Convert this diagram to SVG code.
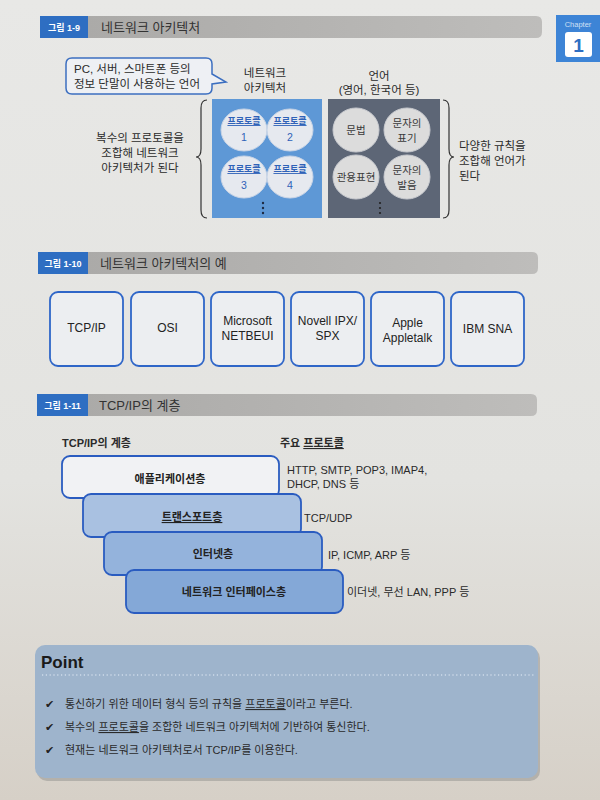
<svg xmlns="http://www.w3.org/2000/svg" width="600" height="800" viewBox="0 0 600 800">
<defs>
<linearGradient id="bg" x1="0" y1="0" x2="0" y2="1">
<stop offset="0" stop-color="#e8e8e6"/>
<stop offset="0.6" stop-color="#e3e3e0"/>
<stop offset="1" stop-color="#d6d0c7"/>
</linearGradient>
<linearGradient id="bar" x1="0" y1="0" x2="1" y2="0">
<stop offset="0" stop-color="#a9a8a6"/>
<stop offset="1" stop-color="#bebdbb"/>
</linearGradient>
<style>
text{font-family:"Liberation Sans","Noto Sans CJK KR",sans-serif;fill:#2a2a2a}
.lbl{fill:#fff;font-size:9px;font-weight:bold}
.ttl{font-size:13px;fill:#333}
.t11{font-size:11.5px}
.c{text-anchor:middle}
.blueTag{fill:#2e6ec2}
.proto{fill:#e6e9ef;stroke:#c8d4e6;stroke-width:1}
.ptxt{fill:#2f62b8;font-size:10.5px}
.pw{fill:#2f62b8;font-size:9px;font-weight:bold}
.lang{fill:#dcdcdc;stroke:#c9cbd0;stroke-width:1}
.ltxt{fill:#3a3a3a;font-size:10.5px}
.brace{fill:none;stroke:#333;stroke-width:1.2}
.arch{fill:#eceef1;stroke:#2f66c8;stroke-width:1.8}
.atxt{font-size:12px;fill:#222}
.layer{stroke:#2a5cc0;stroke-width:1.8}
.ltx{font-size:11px;font-weight:bold;fill:#222}
.rt{font-size:11px;fill:#2a2a2a}
.pt{font-size:11px;fill:#2a2a2a}
.u{text-decoration:underline}
</style>
</defs>
<rect width="600" height="800" fill="url(#bg)"/>

<!-- Chapter tab -->
<g id="chapter">
<rect x="556" y="15" width="44" height="47" fill="#3d84d6"/>
<text x="578" y="27" class="c" style="font-size:7.5px;fill:#cfe0f5">Chapter</text>
<rect x="565" y="32" width="27" height="25" rx="3" fill="#fff"/>
<text x="578.5" y="52" class="c" style="font-size:19px;font-weight:bold;fill:#2e6ec2">1</text>
</g>

<!-- Section 1 header -->
<g id="header1">
<path d="M40,16 H536 Q542,16 542,22 V32 Q542,38 536,38 H40 Z" fill="url(#bar)"/>
<rect x="40" y="16" width="48" height="22" class="blueTag"/>
<text x="64" y="31" class="lbl c">그림 1-9</text>
<text x="101" y="32" class="ttl">네트워크 아키텍처</text>
</g>

<!-- Speech bubble -->
<g id="bubble">
<path d="M72,58 H206 Q212,58 212,64 V74 L226,82 L212,84 V88 Q212,94 206,94 H72 Q66,94 66,88 V64 Q66,58 72,58 Z" fill="#eef0f4" stroke="#3c6fc0" stroke-width="1.5"/>
<text x="74" y="73" class="t11">PC, 서버, 스마트폰 등의</text>
<text x="74" y="88" class="t11">정보 단말이 사용하는 언어</text>
</g>

<g id="arch-label">
<text x="265" y="77" class="t11 c">네트워크</text>
<text x="265" y="92" class="t11 c">아키텍처</text>
</g>
<g id="lang-label">
<text x="379" y="80" class="t11 c">언어</text>
<text x="379" y="94" class="t11 c">(영어, 한국어 등)</text>
</g>

<!-- Network architecture box -->
<g id="arch-box">
<rect x="212" y="99" width="110" height="119" fill="#5e98d6"/>
<ellipse cx="244" cy="130" rx="23" ry="21" class="proto"/>
<text x="244" y="124" class="pw c u">프로토콜</text>
<text x="244" y="141" class="ptxt c">1</text>
<ellipse cx="290" cy="130" rx="23" ry="21" class="proto"/>
<text x="290" y="124" class="pw c u">프로토콜</text>
<text x="290" y="141" class="ptxt c">2</text>
<ellipse cx="244" cy="177" rx="23" ry="21" class="proto"/>
<text x="244" y="172" class="pw c u">프로토콜</text>
<text x="244" y="189" class="ptxt c">3</text>
<ellipse cx="290" cy="177" rx="23" ry="21" class="proto"/>
<text x="290" y="172" class="pw c u">프로토콜</text>
<text x="290" y="189" class="ptxt c">4</text>
<circle cx="263" cy="203" r="1.2" fill="#1e2a44"/>
<circle cx="263" cy="208" r="1.2" fill="#1e2a44"/>
<circle cx="263" cy="213" r="1.2" fill="#1e2a44"/>
</g>

<!-- Language box -->
<g id="lang-box">
<rect x="328" y="99" width="112" height="119" fill="#5d6676"/>
<ellipse cx="356" cy="130" rx="23" ry="22" class="lang"/>
<text x="356" y="134" class="ltxt c">문법</text>
<ellipse cx="407" cy="130" rx="23" ry="22" class="lang"/>
<text x="407" y="127" class="ltxt c">문자의</text>
<text x="407" y="142" class="ltxt c">표기</text>
<ellipse cx="356" cy="177" rx="23" ry="22" class="lang"/>
<text x="356" y="181" class="ltxt c">관용표현</text>
<ellipse cx="407" cy="177" rx="23" ry="22" class="lang"/>
<text x="407" y="174" class="ltxt c">문자의</text>
<text x="407" y="189" class="ltxt c">발음</text>
<circle cx="380" cy="203" r="1.1" fill="#222"/>
<circle cx="380" cy="208" r="1.1" fill="#222"/>
<circle cx="380" cy="213" r="1.1" fill="#222"/>
</g>

<g id="connectors">
<path class="brace" d="M207,100 Q201,100 201,108 L201,149 Q201,157 196,157 Q201,157 201,165 L201,210 Q201,218 207,218"/>
<path class="brace" d="M443,100 Q449,100 449,108 L449,149 Q449,157 454,157 Q449,157 449,165 L449,210 Q449,218 443,218"/>
</g>

<g id="left-note">
<text x="140" y="142" class="t11 c">복수의 프로토콜을</text>
<text x="140" y="157" class="t11 c">조합해 네트워크</text>
<text x="140" y="172" class="t11 c">아키텍처가 된다</text>
</g>
<g id="right-note">
<text x="459" y="150" class="t11">다양한 규칙을</text>
<text x="459" y="165" class="t11">조합해 언어가</text>
<text x="459" y="180" class="t11">된다</text>
</g>

<!-- Section 2 header -->
<g id="header2">
<path d="M38,252 H532 Q538,252 538,258 V268 Q538,274 532,274 H38 Z" fill="url(#bar)"/>
<rect x="38" y="252" width="50" height="22" class="blueTag"/>
<text x="63" y="267" class="lbl c">그림 1-10</text>
<text x="100" y="268" class="ttl">네트워크 아키텍처의 예</text>
</g>

<g id="tcpip">
<rect x="50" y="292" width="73" height="74" rx="8" class="arch"/>
<text x="86.5" y="332" class="atxt c">TCP/IP</text>
</g>
<g id="osi">
<rect x="131" y="292" width="73" height="74" rx="8" class="arch"/>
<text x="167.5" y="332" class="atxt c">OSI</text>
</g>
<g id="netbeui">
<rect x="211" y="292" width="73" height="74" rx="8" class="arch"/>
<text x="247.5" y="325" class="atxt c">Microsoft</text>
<text x="247.5" y="340" class="atxt c">NETBEUI</text>
</g>
<g id="ipx">
<rect x="291" y="292" width="73" height="74" rx="8" class="arch"/>
<text x="327.5" y="325" class="atxt c">Novell IPX/</text>
<text x="327.5" y="340" class="atxt c">SPX</text>
</g>
<g id="appletalk">
<rect x="371" y="292" width="73" height="74" rx="8" class="arch"/>
<text x="407.5" y="327" class="atxt c">Apple</text>
<text x="407.5" y="342" class="atxt c">Appletalk</text>
</g>
<g id="sna">
<rect x="451" y="292" width="73" height="74" rx="8" class="arch"/>
<text x="487.5" y="333" class="atxt c">IBM SNA</text>
</g>

<!-- Section 3 header -->
<g id="header3">
<path d="M37,394 H531 Q537,394 537,400 V410 Q537,416 531,416 H37 Z" fill="url(#bar)"/>
<rect x="37" y="394" width="51" height="22" class="blueTag"/>
<text x="62.5" y="409" class="lbl c">그림 1-11</text>
<text x="99" y="410" class="ttl">TCP/IP의 계층</text>
</g>

<text x="62" y="447" style="font-size:11px;font-weight:bold">TCP/IP의 계층</text>
<text x="280" y="447" style="font-size:11px;font-weight:bold">주요 <tspan class="u">프로토콜</tspan></text>

<g id="layer-app">
<rect x="62" y="456" width="217" height="42" rx="8" class="layer" fill="#f1f2f4"/>
<text x="170" y="483" class="ltx c">애플리케이션층</text>
</g>
<g id="layer-transport">
<rect x="83" y="494" width="218" height="43" rx="8" class="layer" fill="#a9c1e1"/>
<text x="192" y="521" class="ltx c u">트랜스포트층</text>
</g>
<g id="layer-internet">
<rect x="104" y="532" width="218" height="43" rx="8" class="layer" fill="#94b3dc"/>
<text x="213" y="558" class="ltx c">인터넷층</text>
</g>
<g id="layer-netif">
<rect x="126" y="570" width="217" height="43" rx="8" class="layer" fill="#84a8d7"/>
<text x="234" y="596" class="ltx c">네트워크 인터페이스층</text>
</g>

<g id="protocols">
<text x="287" y="474" class="rt">HTTP, SMTP, POP3, IMAP4,</text>
<text x="287" y="488" class="rt">DHCP, DNS 등</text>
<text x="304" y="522" class="rt">TCP/UDP</text>
<text x="328" y="559" class="rt">IP, ICMP, ARP 등</text>
<text x="347" y="596" class="rt">이더넷, 무선 LAN, PPP 등</text>
</g>

<!-- Point box -->
<g id="point">
<rect x="37" y="648" width="503" height="133" rx="10" fill="#8a8a88" opacity="0.45"/>
<rect x="35" y="645" width="503" height="133" rx="10" fill="#9eb4cc"/>
<text x="41" y="668" style="font-size:17px;font-weight:bold;fill:#1a1a1a">Point</text>
<line x1="42" y1="675" x2="534" y2="675" stroke="#e6eef7" stroke-width="1.2" stroke-dasharray="1.2 2.6"/>
<text x="45" y="708" style="font-size:11px;fill:#222">✔</text>
<text x="65" y="708" class="pt">통신하기 위한 데이터 형식 등의 규칙을 <tspan class="u">프로토콜</tspan>이라고 부른다.</text>
<text x="45" y="731" style="font-size:11px;fill:#222">✔</text>
<text x="65" y="731" class="pt">복수의 <tspan class="u">프로토콜</tspan>을 조합한 네트워크 아키텍처에 기반하여 통신한다.</text>
<text x="45" y="754" style="font-size:11px;fill:#222">✔</text>
<text x="65" y="754" class="pt">현재는 네트워크 아키텍처로서 TCP/IP를 이용한다.</text>
</g>
</svg>
